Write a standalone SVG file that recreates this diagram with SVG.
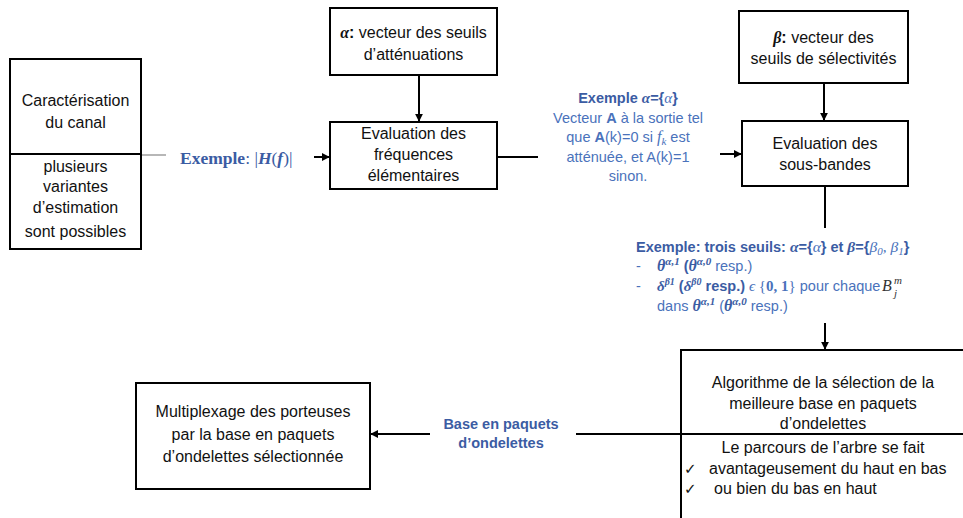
<svg xmlns="http://www.w3.org/2000/svg" width="963" height="518" viewBox="0 0 963 518">
<style>
.box{fill:#fff;stroke:#000;stroke-width:2}
.t{font-family:"Liberation Sans",Arial,sans-serif;font-size:16px;fill:#111;text-anchor:middle}
.b{font-family:"Liberation Sans",Arial,sans-serif;font-size:14.5px;fill:#4a72bb}
.bb{font-weight:bold;fill:#3b5ca3}
.m{font-family:"Liberation Serif","DejaVu Serif",serif;font-style:italic}
.mb{font-family:"Liberation Serif","DejaVu Serif",serif;font-style:italic;font-weight:bold}
.c{stroke:#000;stroke-width:2;fill:none}
</style>
<defs>
<marker id="ah" viewBox="0 0 10 10" refX="9" refY="5" markerWidth="4" markerHeight="4" orient="auto" markerUnits="strokeWidth">
<path d="M0,0 L10,5 L0,10 z" fill="#000"/>
</marker>
</defs>

<g id="connectors">
<line x1="141" y1="155" x2="166" y2="155" stroke="#888" stroke-width="1.2"/>
<line class="c" x1="314" y1="157" x2="329" y2="157" marker-end="url(#ah)"/>
<line class="c" x1="419" y1="75" x2="419" y2="121" marker-end="url(#ah)"/>
<line class="c" x1="497" y1="157" x2="538" y2="157"/>
<line class="c" x1="720" y1="154" x2="741" y2="154" marker-end="url(#ah)"/>
<line class="c" x1="824" y1="83" x2="824" y2="120" marker-end="url(#ah)"/>
<line class="c" x1="825" y1="186" x2="825" y2="228"/>
<line class="c" x1="825" y1="323" x2="825" y2="349" marker-end="url(#ah)"/>
<line class="c" x1="576" y1="434" x2="681" y2="434"/>
<line class="c" x1="430" y1="434" x2="371" y2="434" marker-end="url(#ah)"/>
</g>

<g id="node-canal">
<rect class="box" x="10" y="59" width="131" height="190"/>
<line class="c" x1="10" y1="154" x2="141" y2="154"/>
<text class="t" x="75.5" y="106">Caractérisation</text>
<text class="t" x="75.5" y="128">du canal</text>
<text class="t" x="75.5" y="172">plusieurs</text>
<text class="t" x="75.5" y="192">variantes</text>
<text class="t" x="75.5" y="213">d’estimation</text>
<text class="t" x="75.5" y="237">sont possibles</text>
</g>

<g id="label-H">
<text x="180" y="164" style="font-family:'Liberation Serif',serif;font-size:17.5px;fill:#3b5ca3"><tspan font-weight="bold">Exemple</tspan>: |<tspan class="mb">H</tspan>(<tspan class="mb">f</tspan>)|</text>
</g>

<g id="node-alpha">
<rect class="box" x="330" y="8" width="167" height="67"/>
<text class="t" x="413.5" y="38"><tspan class="mb">α</tspan><tspan font-weight="bold">:</tspan> vecteur des seuils</text>
<text class="t" x="413.5" y="60">d’atténuations</text>
</g>

<g id="node-freq">
<rect class="box" x="330" y="122" width="167" height="67"/>
<text class="t" x="413.5" y="139">Evaluation des</text>
<text class="t" x="413.5" y="160">fréquences</text>
<text class="t" x="413.5" y="181">élémentaires</text>
</g>

<g id="label-A">
<text class="b" x="628" y="103" text-anchor="middle" font-size="14"><tspan class="bb">Exemple </tspan><tspan class="mb" fill="#3b5ca3" font-size="15">α</tspan><tspan class="bb">={</tspan><tspan class="m" font-size="15">α</tspan><tspan class="bb">}</tspan></text>
<text class="b" x="628" y="123" text-anchor="middle">Vecteur <tspan font-weight="bold">A</tspan> à la sortie tel</text>
<text class="b" x="628" y="142" text-anchor="middle">que <tspan font-weight="bold">A</tspan>(k)=0 si <tspan class="m" font-size="16">f</tspan><tspan class="m" font-size="11" dy="3">k</tspan><tspan dy="-3"> est</tspan></text>
<text class="b" x="628" y="162" text-anchor="middle">atténuée, et A(k)=1</text>
<text class="b" x="628" y="181" text-anchor="middle">sinon.</text>
</g>

<g id="node-beta">
<rect class="box" x="739" y="11" width="169" height="72"/>
<text class="t" x="823.5" y="43"><tspan class="mb">β</tspan><tspan font-weight="bold">:</tspan> vecteur des</text>
<text class="t" x="823.5" y="64">seuils de sélectivités</text>
</g>

<g id="node-sousbandes">
<rect class="box" x="742" y="121" width="166" height="65"/>
<text class="t" x="825" y="149">Evaluation des</text>
<text class="t" x="825" y="170">sous-bandes</text>
</g>

<g id="label-seuils">
<text class="b" x="636" y="252" font-size="14"><tspan class="bb">Exemple: trois seuils: </tspan><tspan class="mb" font-size="15.5" fill="#3b5ca3">α</tspan><tspan class="bb">={</tspan><tspan class="m" font-size="15.5">α</tspan><tspan class="bb">} et </tspan><tspan class="mb" font-size="15.5" fill="#3b5ca3">β</tspan><tspan class="bb">={</tspan><tspan class="m" font-size="15.5">β</tspan><tspan class="m" font-size="11" dy="3">0</tspan><tspan class="m" font-size="15.5" dy="-3">, β</tspan><tspan class="m" font-size="11" dy="3">1</tspan><tspan class="bb" dy="-3">}</tspan></text>
<text class="b" x="636" y="271">-</text>
<text class="b" x="657" y="271"><tspan class="mb" font-size="16" fill="#3b5ca3">θ</tspan><tspan class="mb" font-size="11" fill="#3b5ca3" dy="-6">α,1</tspan><tspan class="bb" dy="6"> (</tspan><tspan class="mb" font-size="16" fill="#3b5ca3">θ</tspan><tspan class="mb" font-size="11" fill="#3b5ca3" dy="-6">α,0</tspan><tspan dy="6"> resp.)</tspan></text>
<text class="b" x="636" y="291">-</text>
<text class="b" x="657" y="291" font-size="14"><tspan class="mb" font-size="15" fill="#3b5ca3">δ</tspan><tspan class="mb" font-size="10" fill="#3b5ca3" dy="-6">β1</tspan><tspan class="bb" dy="6"> (</tspan><tspan class="mb" font-size="15" fill="#3b5ca3">δ</tspan><tspan class="mb" font-size="10" fill="#3b5ca3" dy="-6">β0</tspan><tspan class="bb" dy="6"> resp.) </tspan><tspan class="m" font-size="15">ϵ</tspan><tspan font-family="Liberation Serif,serif" font-size="15"> {</tspan><tspan font-family="Liberation Serif,serif" font-size="15" font-weight="bold">0, 1</tspan><tspan font-family="Liberation Serif,serif" font-size="15">}</tspan> pour chaque</text>
<text x="882" y="291" style="font-family:'Liberation Serif',serif;font-style:italic;font-size:16px;fill:#333">B</text>
<text x="894" y="284" style="font-family:'Liberation Serif',serif;font-style:italic;font-size:11px;fill:#333">m</text>
<text x="894" y="297" style="font-family:'Liberation Serif',serif;font-style:italic;font-size:11px;fill:#333">j</text>
<text class="b" x="657" y="311">dans <tspan class="mb" font-size="16" fill="#3b5ca3">θ</tspan><tspan class="mb" font-size="11" fill="#3b5ca3" dy="-6">α,1</tspan><tspan dy="6"> (</tspan><tspan class="mb" font-size="16" fill="#3b5ca3">θ</tspan><tspan class="mb" font-size="11" fill="#3b5ca3" dy="-6">α,0</tspan><tspan dy="6"> resp.)</tspan></text>
</g>

<g id="node-algo">
<rect class="box" x="681" y="350" width="300" height="190"/>
<line class="c" x1="681" y1="434" x2="963" y2="434"/>
<text class="t" x="823" y="388">Algorithme de la sélection de la</text>
<text class="t" x="823" y="409">meilleure base en paquets</text>
<text class="t" x="823" y="429">d’ondelettes</text>
<text class="t" x="823" y="453">Le parcours de l’arbre se fait</text>
<text class="t" x="684" y="474" style="text-anchor:start;font-family:'DejaVu Sans',sans-serif;font-size:15px">✓</text>
<text class="t" x="709" y="474" style="text-anchor:start">avantageusement du haut en bas</text>
<text class="t" x="684" y="494" style="text-anchor:start;font-family:'DejaVu Sans',sans-serif;font-size:15px">✓</text>
<text class="t" x="714" y="494" style="text-anchor:start">ou bien du bas en haut</text>
</g>

<g id="label-base">
<text class="b bb" x="501" y="429" text-anchor="middle" font-size="13.8">Base en paquets</text>
<text class="b bb" x="501" y="448" text-anchor="middle" font-size="13.8">d’ondelettes</text>
</g>

<g id="node-multiplexage">
<rect class="box" x="136" y="383" width="234" height="106"/>
<text class="t" x="253" y="417">Multiplexage des porteuses</text>
<text class="t" x="253" y="440">par la base en paquets</text>
<text class="t" x="253" y="462">d’ondelettes sélectionnée</text>
</g>
</svg>
